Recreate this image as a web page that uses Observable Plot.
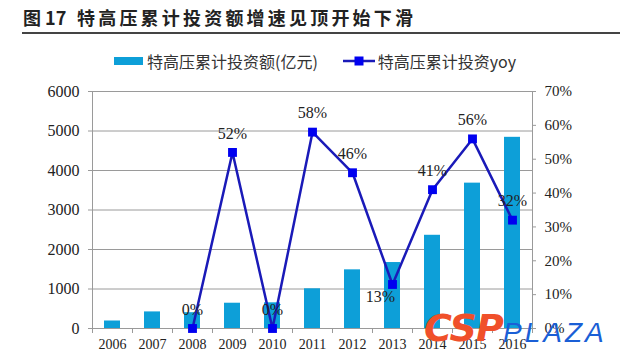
<!DOCTYPE html>
<html><head><meta charset="utf-8">
<script src="https://cdn.jsdelivr.net/npm/d3@7"></script>
<script src="https://cdn.jsdelivr.net/npm/@observablehq/plot@0.6"></script>
<style>
body{margin:0;background:#fff;}
#wrap{position:relative;width:620px;height:361px;overflow:hidden;font-family:"Noto Sans CJK SC",sans-serif;background:#fff;}
#title{position:absolute;left:23px;top:4px;font-size:18px;font-weight:700;letter-spacing:3.2px;color:#222;white-space:nowrap;}
#title .n{display:inline-block;width:54px;letter-spacing:0;}
#rule{position:absolute;left:22px;top:32px;width:598px;height:2px;background:#444;}
#legend{position:absolute;left:114px;top:49px;height:24px;display:flex;align-items:center;font-size:16px;color:#333;white-space:nowrap;}
#legend .sw{display:inline-block;width:29px;height:8px;background:#0d9fd8;margin-right:4px;}
#chart{position:absolute;left:0;top:80px;}
#chart svg text{font-family:"Liberation Serif","Times New Roman",serif;}
#wm1{position:absolute;left:424px;top:306px;font-family:"DejaVu Sans",sans-serif;font-weight:700;font-style:italic;font-size:38px;color:#f0502a;letter-spacing:-1px;}
#wm2{position:absolute;left:503px;top:317px;font-family:"Liberation Sans",sans-serif;font-style:italic;font-size:28px;color:#1a5fd6;letter-spacing:3px;}
</style></head>
<body>
<div id="wrap">
  <div id="title"><span class="n">图 17</span>特高压累计投资额增速见顶开始下滑</div>
  <div id="rule"></div>
  <div id="legend">
    <span class="sw"></span><span>特高压累计投资额(亿元)</span>
    <svg width="32" height="12" style="margin-left:25px;margin-right:3px"><line x1="0" y1="6" x2="32" y2="6" stroke="#1a1ab8" stroke-width="2.5"/><rect x="11.5" y="1.5" width="9" height="9" fill="#0000f0"/></svg><span>特高压累计投资yoy</span>
  </div>
  <div id="chart"></div>
  <div id="wm1">CSP</div>
  <div id="wm2">PLAZA</div>
</div>
<script>
const years = ["2006","2007","2008","2009","2010","2011","2012","2013","2014","2015","2016"];
const invest = [190, 420, 400, 640, 650, 1005, 1485, 1670, 2360, 3680, 4840];
const yoyYears = ["2008","2009","2010","2011","2012","2013","2014","2015","2016"];
const yoy = [0, 52, 0, 58, 46, 13, 41, 56, 32];
const leftTicks = [0, 1000, 2000, 3000, 4000, 5000, 6000];
const rightTicks = [0, 10, 20, 30, 40, 50, 60, 70];

const k = 6000 / 70;
const barData = years.map((y, i) => ({year: y, i, v: invest[i]}));
const lineData = yoyYears.map((y, j) => ({year: y, i: years.indexOf(y), p: yoy[j]}));
const gridC = "#9a9a9a";
const serif = '"Liberation Serif", "Times New Roman", serif';

const chart = Plot.plot({
  width: 620, height: 281,
  marginLeft: 92, marginRight: 88, marginTop: 11, marginBottom: 33,
  x: {domain: [0, years.length], axis: null},
  y: {domain: [0, 6000], axis: null},
  style: {fontFamily: serif, color: "#222", background: "transparent"},
  marks: [
    Plot.ruleY(leftTicks, {stroke: gridC, strokeWidth: 1}),
    Plot.ruleX([0, years.length], {stroke: gridC}),
    Plot.rectY(barData, {x1: "i", x2: d => d.i + 1, y: "v", insetLeft: 12, insetRight: 12, fill: "#0d9fd8"}),
    Plot.axisY(leftTicks, {anchor: "left", label: null, tickSize: 4, tickPadding: 9, fontSize: 16, stroke: gridC, fontFamily: serif, tickFormat: d => String(d)}),
    Plot.axisY(rightTicks.map(p => p * k), {anchor: "right", label: null, tickSize: 3, tickPadding: 9, fontSize: 15, stroke: gridC, fontFamily: serif, tickFormat: d => Math.round(d / k) + "%"}),
    Plot.axisX(d3.range(0, years.length + 1), {anchor: "bottom", label: null, tickSize: 5, stroke: gridC, tickFormat: () => ""}),
    Plot.axisX(years.map((y, i) => i + 0.5), {anchor: "bottom", label: null, tickSize: 0, tickPadding: 11, fontSize: 14, fontFamily: serif, tickFormat: d => years[Math.floor(d)]}),
    Plot.line(lineData, {x: d => d.i + 0.5, y: d => d.p * k, stroke: "#1a1ab8", strokeWidth: 2.5}),
    Plot.dot(lineData, {x: d => d.i + 0.5, y: d => d.p * k, symbol: "square", r: 5, fill: "#0000f0", stroke: "none"}),
    Plot.text(lineData.filter(d => d.year !== "2013"), {x: d => d.i + 0.5, y: d => d.p * k, text: d => d.p + "%", dy: -19, fontSize: 16, fontFamily: serif, fill: "#222"}),
    Plot.text(lineData.filter(d => d.year === "2013"), {x: d => d.i + 0.5, y: d => d.p * k, text: d => d.p + "%", dx: -12, dy: 12, fontSize: 16, fontFamily: serif, fill: "#222"})
  ]
});
document.getElementById("chart").appendChild(chart);
</script>
</body></html>
